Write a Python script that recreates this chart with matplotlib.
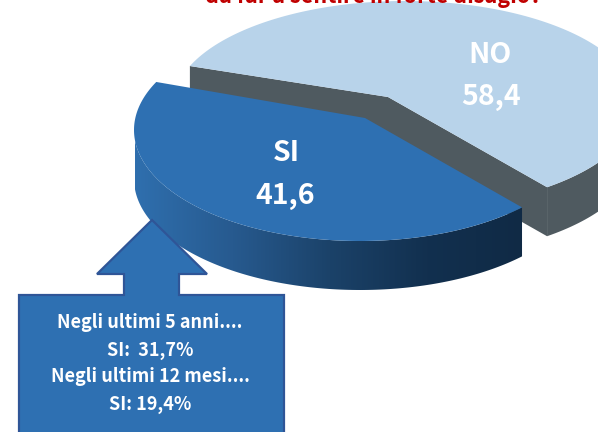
#!/usr/bin/env python3
"""Pseudo-3D pie, SI/NO, with callout box below."""

import matplotlib
matplotlib.use("Agg")
import matplotlib.pyplot as plt
from matplotlib.colors import LinearSegmentedColormap
from matplotlib.patches import Polygon
import numpy as np

plt.rcParams["font.family"] = ["Noto Sans CJK SC", "DejaVu Sans"]

labels = ["SI", "NO"]
shares = [41.6, 58.4]
title_tail = "da far a sentire in forte disagio?"
callout_lines = ["Negli ultimi 5 anni....", "SI:  31,7%", "Negli ultimi 12 mesi....", "SI: 19,4%"]

W, H = 598, 432
DEPTH = 49
BLUE, LIGHT, GREY = "#2e70b2", "#b8d3ea", "#4f5a60"


def arc(cx, cy, a, b, start, share, gain=1.0, n=160):
    # gain: front slice looks wider than its share because of the perspective
    th = np.radians(np.linspace(start, start - share * 3.6 * gain, n))
    return np.c_[cx + a * np.cos(th), cy - b * np.sin(th)]


def big_label(x, y, s):
    ax.text(x, y, s, color="white", fontsize=20.5, fontweight="bold", ha="center", va="center", zorder=5)


fig = plt.figure(figsize=(W / 100, H / 100), dpi=100)
ax = fig.add_axes([0, 0, 1, 1])
ax.set_xlim(0, W); ax.set_ylim(H, 0); ax.axis("off")

# NO slice: grey extrusion first, then the light top
no_arc = arc(405, 105, 232, 104, 158, shares[1])
no_vertex = np.array([388, 97])
drop = np.array([0, DEPTH])
ax.add_patch(Polygon(np.vstack([no_arc[0], no_vertex, no_arc[-1], no_arc[-1] + drop,
                                no_vertex + drop, no_arc[0] + drop]), fc=GREY, ec="none", zorder=1))
# only the front of the rim, the back would fringe around the top
no_front = no_arc[no_arc[:, 1] >= 105]
ax.add_patch(Polygon(np.vstack([no_front, (no_front + drop)[::-1]]), fc=GREY, ec="none", zorder=1))
ax.add_patch(Polygon(np.vstack([no_vertex, no_arc]), fc=LIGHT, ec="none", zorder=2))

# SI slice: rim with a horizontal gradient, then the top
si_arc = arc(360, 130, 226, 111, -44.2, shares[0], gain=1.078)
si_vertex = np.array([365, 118])
si_front = si_arc[si_arc[:, 1] >= 130]
rim = Polygon(np.vstack([si_front, (si_front + drop)[::-1]]), fc="none", ec="none", zorder=3)
ax.add_patch(rim)
grad = LinearSegmentedColormap.from_list("rim", ["#2f6fae", "#275a8f", "#1b4269", "#12304f", "#102a45"])
im = ax.imshow(np.linspace(0, 1, 256)[None, :], extent=(135, 525, 300, 80), cmap=grad,
               aspect="auto", zorder=3)
im.set_clip_path(rim)
ax.set_xlim(0, W); ax.set_ylim(H, 0)
ax.add_patch(Polygon(np.vstack([si_vertex, si_arc]), fc=BLUE, ec="none", zorder=4))

# slice labels
big_label(490, 55, labels[1])
big_label(491, 97, f"{shares[1]:.1f}".replace(".", ","))
big_label(286, 153, labels[0])
big_label(285, 196, f"{shares[0]:.1f}".replace(".", ","))

# callout box with arrow pointing at the SI slice
ax.add_patch(Polygon([(152, 220), (207, 274), (179, 274), (179, 295), (284, 295), (284, 440),
                      (19, 440), (19, 295), (124, 295), (124, 274), (97, 274)],
                     fc=BLUE, ec="#2f5597", lw=1.6, zorder=6))
for y, line in zip([322, 350, 377, 404], callout_lines):
    ax.text(150, y, line, color="white", fontsize=13, fontweight="bold", ha="center", va="center", zorder=7)

# title, cut by the top of the picture
ax.text(373, -3, title_tail, color="#c00000", fontsize=15.6, fontweight="bold", ha="center", va="center",
        zorder=7)

fig.savefig("out.png", dpi=100)
